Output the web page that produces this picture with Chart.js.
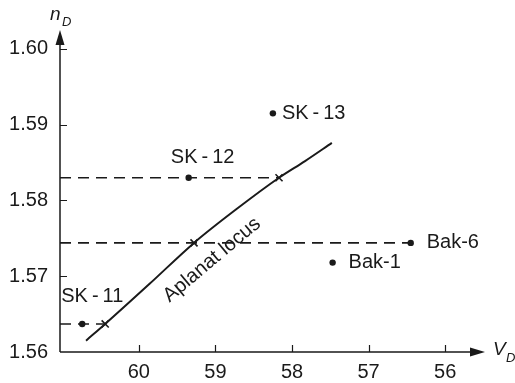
<!DOCTYPE html>
<html><head><meta charset="utf-8">
<script src="https://cdn.jsdelivr.net/npm/chart.js@4/dist/chart.umd.min.js"></script>
<style>html,body{margin:0;padding:0;background:#fff}#wrap{width:515px;height:383px}</style>
</head><body><div id="wrap"><canvas id="c" width="515" height="383"></canvas></div>
<script>
// ---- data ----
const xTicks = [60, 59, 58, 57, 56];
const yTicks = [1.56, 1.57, 1.58, 1.59, 1.60];
const xRange = [55.48, 61.03];
const yRange = [1.56, 1.6025];

const glassNames = ['SK\u2009-\u200911', 'SK\u2009-\u200912', 'SK\u2009-\u200913', 'Bak-6', 'Bak-1'];
const glassV = [60.74, 59.35, 58.25, 56.45, 57.47];
const glassN = [1.5637, 1.5830, 1.5915, 1.5744, 1.5718];

const locusV = [60.69, 60.44, 59.86, 59.28, 58.72, 58.17, 57.83, 57.48];
const locusN = [1.5615, 1.5637, 1.5690, 1.5744, 1.5789, 1.5830, 1.5852, 1.5876];

const crossV = [60.44, 59.28, 58.17];
const crossN = [1.5637, 1.5744, 1.5830];

const guideN = [1.5830, 1.5744, 1.5637];
const guideEndV = [58.17, 56.45, 60.44];

const locusLabel = 'Aplanat locus';
const xTitle = ['V', 'D'];
const yTitle = ['n', 'D'];

// ---- styles / layout ----
const INK = '#1a1a1a';
const FONT = '"Liberation Sans", Arial, Helvetica, sans-serif';
const labelPlace = [
  {dx: -21, dy: -27, align: 'left'},
  {dx: 14, dy: -20, align: 'center'},
  {dx: 9, dy: 0, align: 'left'},
  {dx: 16, dy: 0, align: 'left'},
  {dx: 16, dy: 0, align: 'left'}
];

const datasets = [];
guideN.forEach((n, i) => {
  datasets.push({
    type: 'line',
    data: [{x: xRange[1], y: n}, {x: guideEndV[i], y: n}],
    borderColor: INK, borderWidth: 1.6, borderDash: [11, 7],
    pointRadius: 0, fill: false, clip: false
  });
});
datasets.push({
  type: 'line',
  data: locusV.map((v, i) => ({x: v, y: locusN[i]})),
  borderColor: INK, borderWidth: 2, cubicInterpolationMode: 'monotone',
  pointRadius: 0, fill: false, clip: false
});
datasets.push({
  type: 'scatter',
  data: crossV.map((v, i) => ({x: v, y: crossN[i]})),
  pointStyle: 'crossRot', pointRadius: 5, borderColor: INK, borderWidth: 1.6,
  backgroundColor: INK
});
datasets.push({
  type: 'scatter',
  data: glassV.map((v, i) => ({x: v, y: glassN[i]})),
  pointStyle: 'circle', pointRadius: 3.2, borderWidth: 0,
  backgroundColor: INK, borderColor: INK
});

const decor = {
  id: 'decor',
  afterDatasetsDraw(chart) {
    const ctx = chart.ctx;
    const xs = chart.scales.x, ys = chart.scales.y;
    const x0 = xs.getPixelForValue(xRange[1]);
    const x1 = xs.getPixelForValue(xRange[0]);
    const y0 = ys.getPixelForValue(yRange[0]);
    const y1 = ys.getPixelForValue(yRange[1]);
    ctx.save();
    ctx.strokeStyle = INK; ctx.fillStyle = INK; ctx.lineWidth = 1.5;
    // axes
    ctx.beginPath();
    ctx.moveTo(x0, y0); ctx.lineTo(x1 - 12, y0);
    ctx.moveTo(x0, y0); ctx.lineTo(x0, y1 + 12);
    ctx.stroke();
    // arrows
    ctx.beginPath();
    ctx.moveTo(x1, y0); ctx.lineTo(x1 - 15, y0 - 4.5); ctx.lineTo(x1 - 15, y0 + 4.5); ctx.closePath();
    ctx.fill();
    ctx.beginPath();
    ctx.moveTo(x0, y1); ctx.lineTo(x0 - 4.5, y1 + 15); ctx.lineTo(x0 + 4.5, y1 + 15); ctx.closePath();
    ctx.fill();
    // inward ticks
    ctx.lineWidth = 1.2;
    ctx.beginPath();
    xTicks.forEach(v => { const p = Math.round(xs.getPixelForValue(v)) + 0.5; ctx.moveTo(p, y0); ctx.lineTo(p, y0 - 7); });
    yTicks.forEach(v => { if (v === yRange[0]) return; const p = Math.round(ys.getPixelForValue(v)) + 0.5; ctx.moveTo(x0, p); ctx.lineTo(x0 + 7, p); });
    ctx.stroke();
    // point labels
    ctx.font = '20px ' + FONT;
    ctx.textBaseline = 'middle';
    glassNames.forEach((name, i) => {
      const px = xs.getPixelForValue(glassV[i]), py = ys.getPixelForValue(glassN[i]);
      const lp = labelPlace[i];
      ctx.textAlign = lp.align;
      ctx.fillText(name, px + lp.dx, py + lp.dy);
    });
    // locus label
    const ax = xs.getPixelForValue(crossV[1]), ay = ys.getPixelForValue(crossN[1]);
    ctx.save();
    ctx.translate(ax + 18, ay + 17);
    ctx.rotate(-40 * Math.PI / 180);
    ctx.textAlign = 'center';
    ctx.fillText(locusLabel, 0, 0);
    ctx.restore();
    // axis titles
    ctx.textAlign = 'left'; ctx.textBaseline = 'alphabetic';
    ctx.font = 'italic 19px ' + FONT;
    ctx.fillText(yTitle[0], x0 - 10, 20);
    ctx.fillText(xTitle[0], x1 + 8, y0 + 3);
    ctx.font = 'italic 13px ' + FONT;
    ctx.fillText(yTitle[1], x0 + 2, 26);
    ctx.fillText(xTitle[1], x1 + 21, y0 + 10);
    ctx.restore();
  }
};

new Chart(document.getElementById('c'), {
  type: 'scatter',
  data: {datasets},
  options: {
    responsive: false,
    animation: false,
    devicePixelRatio: 1,
    layout: {padding: {top: 30, right: 30, left: 0, bottom: 0}},
    plugins: {legend: {display: false}, tooltip: {enabled: false}},
    scales: {
      x: {
        type: 'linear', reverse: true, min: xRange[0], max: xRange[1],
        afterBuildTicks: s => { s.ticks = xTicks.map(v => ({value: v})); },
        afterFit: s => { s.height = 31; },
        grid: {display: false, drawTicks: false}, border: {display: false},
        ticks: {color: INK, font: {family: FONT, size: 20}, padding: 8, maxRotation: 0,
                callback: v => String(v)}
      },
      y: {
        type: 'linear', min: yRange[0], max: yRange[1],
        afterBuildTicks: s => { s.ticks = yTicks.map(v => ({value: v})); },
        afterFit: s => { s.width = 60; },
        grid: {display: false, drawTicks: false}, border: {display: false},
        ticks: {color: INK, font: {family: FONT, size: 20}, padding: 12,
                callback: v => Number(v).toFixed(2)}
      }
    }
  },
  plugins: [decor]
});
</script>
</body></html>
